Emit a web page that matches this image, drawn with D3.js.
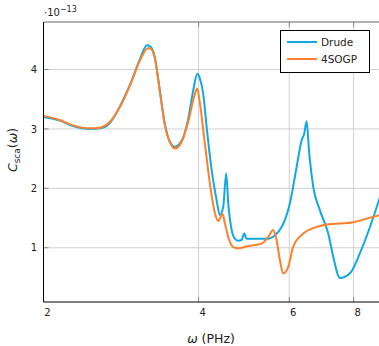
<!DOCTYPE html>
<html>
<head>
<meta charset="utf-8">
<script src="https://cdn.jsdelivr.net/npm/d3@7"></script>
<style>
  body { margin: 0; background: #fff; }
  svg { font-family: "DejaVu Sans", sans-serif; }
</style>
</head>
<body>
<div id="chart"></div>
<script>
// Scattering cross section, units of 1e-13
const drudeW = [2.00, 2.152, 2.281, 2.461, 2.573, 2.691, 2.814, 2.943, 3.077, 3.175, 3.232, 3.291, 3.365, 3.441, 3.519, 3.599, 3.708, 3.819, 3.900, 3.979, 4.024, 4.084, 4.147, 4.240, 4.336, 4.400, 4.466, 4.526, 4.567, 4.637, 4.705, 4.769, 4.848, 4.905, 4.958, 5.215, 5.452, 5.626, 5.798, 5.884, 6.017, 6.200, 6.340, 6.414, 6.483, 6.559, 6.677, 6.881, 7.141, 7.302, 7.524, 7.868, 8.228, 8.605, 8.998];
const drudeC = [3.20, 3.14, 3.05, 3.00, 3.01, 3.10, 3.38, 3.74, 4.17, 4.41, 4.38, 4.20, 3.64, 3.08, 2.78, 2.70, 2.80, 3.17, 3.62, 3.93, 3.85, 3.59, 3.03, 2.31, 1.80, 1.55, 1.69, 2.25, 1.75, 1.30, 1.15, 1.12, 1.13, 1.24, 1.15, 1.15, 1.15, 1.21, 1.35, 1.47, 1.75, 2.36, 2.81, 2.92, 3.13, 2.59, 2.03, 1.63, 1.24, 0.85, 0.49, 0.57, 0.91, 1.35, 1.85];

const sogpW = [2.00, 2.152, 2.281, 2.461, 2.573, 2.691, 2.814, 2.943, 3.077, 3.189, 3.232, 3.291, 3.365, 3.441, 3.519, 3.599, 3.708, 3.819, 3.935, 3.976, 4.024, 4.115, 4.208, 4.303, 4.367, 4.454, 4.500, 4.567, 4.670, 4.775, 4.994, 5.302, 5.460, 5.584, 5.669, 5.754, 5.839, 5.971, 6.106, 6.386, 6.677, 7.090, 7.985, 8.478, 8.998];
const sogpC = [3.22, 3.15, 3.06, 3.01, 3.02, 3.12, 3.37, 3.73, 4.15, 4.36, 4.35, 4.18, 3.62, 3.06, 2.78, 2.67, 2.78, 3.12, 3.59, 3.68, 3.43, 2.75, 2.08, 1.58, 1.45, 1.57, 1.41, 1.18, 1.01, 0.99, 1.03, 1.07, 1.18, 1.30, 1.13, 0.79, 0.57, 0.68, 1.02, 1.24, 1.33, 1.39, 1.43, 1.49, 1.55];

const xTicks = [2, 4, 6, 8];
const yTicks = [1, 2, 3, 4];
const seriesNames = ["Drude", "4SOGP"];
const colors = ["#10a8e0", "#ff7f2a"];

const width = 379, height = 346;
const marginLeft = 43.5, marginTop = 22, marginBottom = 44;
const plotRight = 380;

const x = d3.scaleLog([2, 9], [marginLeft, plotRight]);
const y = d3.scaleLinear([0.087, 4.8], [height - marginBottom, marginTop]);

const svg = d3.select("#chart").append("svg")
  .attr("width", width).attr("height", height);

// grid lines
svg.append("g")
  .selectAll("line")
  .data(yTicks)
  .join("line")
  .attr("x1", marginLeft).attr("x2", plotRight)
  .attr("y1", d => y(d)).attr("y2", d => y(d))
  .attr("stroke", "#d0d0d0");
svg.append("g")
  .selectAll("line")
  .data(xTicks.slice(1))
  .join("line")
  .attr("x1", d => x(d)).attr("x2", d => x(d))
  .attr("y1", marginTop).attr("y2", height - marginBottom)
  .attr("stroke", "#d0d0d0");

// inner tick marks
const tickLen = 5;
svg.append("g")
  .selectAll("line")
  .data(yTicks)
  .join("line")
  .attr("x1", marginLeft).attr("x2", marginLeft + tickLen)
  .attr("y1", d => y(d)).attr("y2", d => y(d))
  .attr("stroke", "#888");
svg.append("g")
  .selectAll("path")
  .data(xTicks.slice(1))
  .join("path")
  .attr("d", d => `M${x(d)},${height - marginBottom}v${-tickLen}M${x(d)},${marginTop}v${tickLen}`)
  .attr("stroke", "#888");

// curves
const line = d3.line()
  .x(d => x(d[0]))
  .y(d => y(d[1]))
  .curve(d3.curveMonotoneX);

const series = [
  d3.zip(drudeW, drudeC),
  d3.zip(sogpW, sogpC)
];

svg.append("defs").append("clipPath").attr("id", "clip")
  .append("rect")
  .attr("x", marginLeft).attr("y", marginTop)
  .attr("width", plotRight - marginLeft)
  .attr("height", height - marginBottom - marginTop);

svg.append("g")
  .attr("clip-path", "url(#clip)")
  .selectAll("path")
  .data(series)
  .join("path")
  .attr("fill", "none")
  .attr("stroke", (d, i) => colors[i])
  .attr("stroke-width", 2)
  .attr("stroke-linejoin", "round")
  .attr("d", line);

// axis frame
svg.append("line")
  .attr("x1", marginLeft).attr("x2", plotRight)
  .attr("y1", marginTop).attr("y2", marginTop)
  .attr("stroke", "#666");
svg.append("line")
  .attr("x1", marginLeft).attr("x2", marginLeft)
  .attr("y1", marginTop).attr("y2", height - marginBottom)
  .attr("stroke", "#000");
svg.append("line")
  .attr("x1", marginLeft).attr("x2", plotRight)
  .attr("y1", height - marginBottom).attr("y2", height - marginBottom)
  .attr("stroke", "#000");

// tick labels
svg.append("g")
  .selectAll("text")
  .data(xTicks)
  .join("text")
  .attr("x", d => x(d) + 4)
  .attr("y", height - marginBottom + 14)
  .attr("text-anchor", "middle")
  .attr("font-size", 10)
  .attr("fill", "#222")
  .text(d => d);
svg.append("g")
  .selectAll("text")
  .data(yTicks)
  .join("text")
  .attr("x", 37)
  .attr("y", d => y(d))
  .attr("dy", "0.36em")
  .attr("text-anchor", "end")
  .attr("font-size", 10)
  .attr("fill", "#222")
  .text(d => d);

// exponent
const expo = svg.append("text")
  .attr("x", 44).attr("y", 16)
  .attr("font-size", 10).attr("fill", "#222");
expo.append("tspan").text("·10");
expo.append("tspan").attr("dy", -4).attr("font-size", 8).text("−13");

// axis labels
const xl = svg.append("text")
  .attr("x", 211).attr("y", 343)
  .attr("text-anchor", "middle")
  .attr("font-size", 12.5).attr("fill", "#222");
xl.append("tspan").attr("font-style", "italic").text("ω");
xl.append("tspan").text(" (PHz)");

const yl = svg.append("text")
  .attr("transform", "translate(17,150) rotate(-90)")
  .attr("text-anchor", "middle")
  .attr("font-size", 12.5).attr("fill", "#222");
yl.append("tspan").attr("font-style", "italic").text("C");
yl.append("tspan").attr("font-size", 9).attr("dy", 2.5).text("sca");
yl.append("tspan").attr("dy", -2.5).text("(");
yl.append("tspan").attr("font-style", "italic").text("ω");
yl.append("tspan").text(")");

// legend
const legend = svg.append("g");
legend.append("rect")
  .attr("x", 280.5).attr("y", 30.5)
  .attr("width", 89).attr("height", 42)
  .attr("fill", "#fff").attr("stroke", "#000");
seriesNames.forEach((name, i) => {
  const ly = 42 + i * 17;
  legend.append("line")
    .attr("x1", 287).attr("x2", 317)
    .attr("y1", ly).attr("y2", ly)
    .attr("stroke", colors[i]).attr("stroke-width", 2);
  legend.append("text")
    .attr("x", 321).attr("y", ly)
    .attr("dy", "0.36em")
    .attr("font-size", 10.5).attr("fill", "#222")
    .text(name);
});
</script>
</body>
</html>
